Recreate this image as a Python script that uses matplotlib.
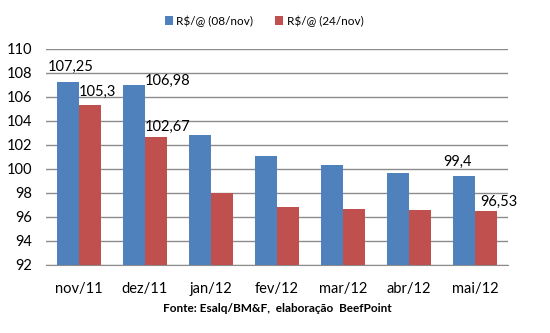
import matplotlib as mpl
import matplotlib.pyplot as plt
import numpy as np

mpl.rc('font', family=['Lato', 'DejaVu Sans'])

meses = ["nov/11", "dez/11", "jan/12", "fev/12", "mar/12", "abr/12", "mai/12"]
preco_08nov = [107.25, 106.98, 102.83, 101.08, 100.33, 99.67, 99.4]
preco_24nov = [105.3, 102.67, 97.98, 96.83, 96.67, 96.58, 96.53]
serie_08 = "R$/@ (08/nov)"
serie_24 = "R$/@ (24/nov)"
fonte = "Fonte: Esalq/BM&F,  elaboração  BeefPoint"

# rótulos mostrados: (série, índice, deslocamento em pixels)
rotulos = [(0, 0, (3, 15)), (1, 0, (7, 14)), (0, 1, (34, 4)),
           (1, 1, (12, 10)), (0, 6, (-6, 14)), (1, 6, (13, 9))]

azul = "#4F81BD"
vermelho = "#C0504D"
grade = "#8C8C8C"

fig = plt.figure(figsize=(5.5, 3.33), dpi=100, facecolor="w")
ax = fig.add_axes([46/550, 1-265/333, 462/550, 216/333])

x = np.arange(len(meses))
w = 1/3.
b1 = ax.bar(x - w/2, np.array(preco_08nov) - 92, w, bottom=92, color=azul,
            label=serie_08, zorder=3)
b2 = ax.bar(x + w/2, np.array(preco_24nov) - 92, w, bottom=92, color=vermelho,
            label=serie_24, zorder=3)

series = [preco_08nov, preco_24nov]
for s, i, (dx, dy) in rotulos:
  v = series[s][i]
  xc = i - w/2 if s == 0 else i + w/2
  txt = ("%g" % v).replace(".", ",")
  ax.annotate(txt, (xc, v), xytext=(dx, dy), textcoords="offset pixels",
              ha="center", va="center", fontsize=10.5, color="black")

ax.set_ylim(92, 110)
ax.set_xlim(-0.5, len(meses) - 0.5)
ax.set_yticks(np.arange(92, 111, 2))
ax.set_xticks(x)
ax.set_xticklabels(meses)
ax.yaxis.grid(True, color=grade, linewidth=1, zorder=0)
ax.set_axisbelow(True)
for sp in ["top", "right", "left"]:
  ax.spines[sp].set_visible(False)
ax.spines["bottom"].set_color(grade)
ax.tick_params(axis="both", length=0, labelsize=10.5)
ax.tick_params(axis="y", pad=10)
ax.tick_params(axis="x", pad=12)

fig.legend(handles=[b1, b2], loc="center", bbox_to_anchor=(264/550, 1-21/333),
           ncol=2, frameon=False, fontsize=8.5, handlelength=0.7,
           handleheight=0.7, handletextpad=0.3, columnspacing=1.8)
fig.text(277/550, 1-309/333, fonte, ha="center", va="center",
         fontsize=8.5, fontweight="bold")

plt.savefig("out.png", dpi=100)
